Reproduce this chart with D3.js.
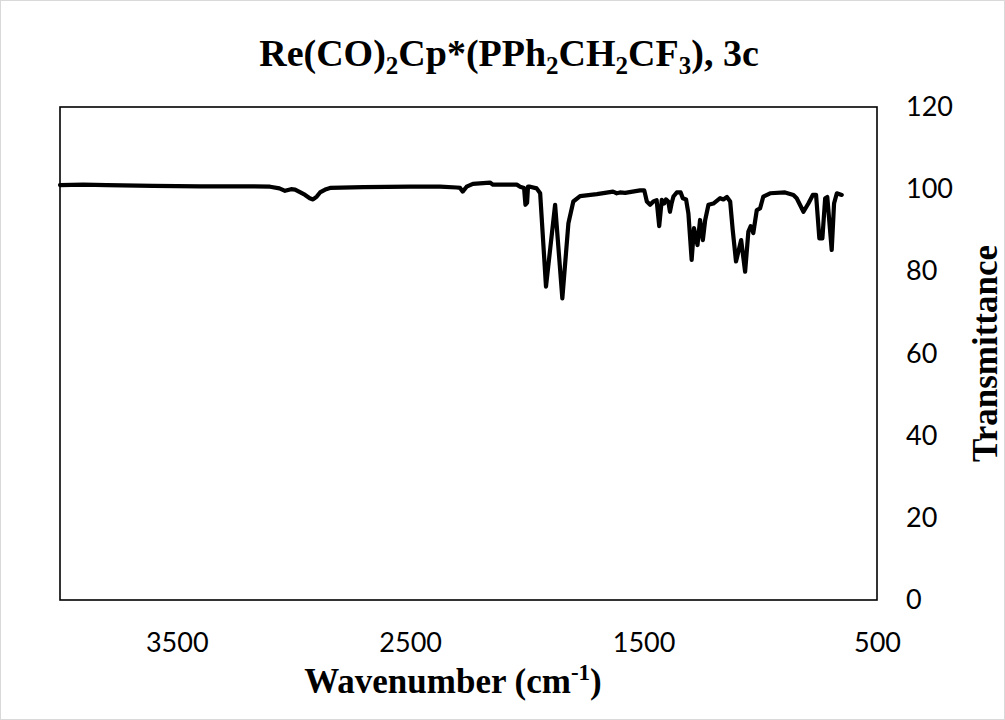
<!DOCTYPE html>
<html><head><meta charset="utf-8">
<script src="https://cdn.jsdelivr.net/npm/d3@7/dist/d3.min.js"></script>
<style>
html,body{margin:0;padding:0;background:#fff;}
svg{display:block;}
</style></head>
<body>
<svg id="chart" width="1005" height="720"></svg>
<script>
const wavenumbers = [4000,3900,3800,3600,3400,3200,3100,3060,3036,3010,2993,2970,2950,2930,2916,2900,2886,2860,2843,2700,2500,2372,2300,2286,2275,2258,2231,2158,2145,2043,2029,2012,2006,1999,1995,1986,1958,1943,1918,1879,1848,1822,1801,1772,1700,1631,1615,1601,1579,1515,1497,1486,1472,1458,1444,1433,1422,1412,1404,1394,1387,1380,1372,1358,1341,1332,1318,1308,1294,1284,1269,1258,1246,1236,1222,1201,1172,1158,1143,1129,1118,1104,1082,1065,1051,1041,1030,1015,1001,987,958,894,858,844,815,794,775,761,747,734,722,713,694,684,672,651];
const transmittance = [101.0,101.1,101.0,100.8,100.7,100.7,100.6,100.2,99.6,100.0,99.9,99.2,98.6,97.8,97.5,98.2,99.2,100.0,100.3,100.5,100.6,100.6,100.4,100.3,99.4,100.6,101.3,101.6,101.1,101.1,100.6,100.3,96.2,96.7,100.6,100.6,100.2,99.0,76.3,96.2,73.4,91.7,97.0,98.3,98.8,99.4,99.0,99.2,99.1,99.7,99.7,97.0,96.2,97.0,97.3,91.0,97.4,96.5,97.5,97.0,94.5,96.5,98.2,99.2,99.2,97.8,97.5,94.1,82.8,90.5,86.4,92.5,87.6,92.5,96.2,96.5,97.8,97.5,98.1,97.0,90.0,82.4,87.6,79.9,89.7,91.0,89.3,94.9,95.3,98.2,99.0,99.2,98.6,97.8,94.5,96.5,98.6,98.6,88.0,88.0,97.8,98.1,85.2,96.5,99.0,98.6];
const xTicks = [3500,2500,1500,500];
const yTicks = [0,20,40,60,80,100,120];

const svg = d3.select("#chart");
const W = 1005, H = 720;
const m = {left:60, right:877, top:107, bottom:600};

svg.append("rect").attr("x",0.5).attr("y",0.5).attr("width",W-1).attr("height",H-1)
  .attr("fill","#fff").attr("stroke","#d9d9d9").attr("stroke-width",1);

const x = d3.scaleLinear().domain([4000,500]).range([m.left,m.right]);
const y = d3.scaleLinear().domain([0,120]).range([m.bottom,m.top]);

const tickFont = "Lato, 'Open Sans', sans-serif";

const gx = svg.append("g").attr("transform",`translate(0,${m.bottom})`)
  .call(d3.axisBottom(x).tickValues(xTicks).tickSize(0).tickPadding(33).tickFormat(d3.format("d")));
gx.select(".domain").remove();
gx.selectAll("text").attr("font-family",tickFont).attr("font-size",27).attr("fill","#000");

const gy = svg.append("g").attr("transform",`translate(${m.right},0)`)
  .call(d3.axisRight(y).tickValues(yTicks).tickSize(0).tickPadding(29).tickFormat(d3.format("d")));
gy.select(".domain").remove();
gy.selectAll("text").attr("font-family",tickFont).attr("font-size",27).attr("fill","#000");

// plot frame
svg.append("rect").attr("x",m.left).attr("y",m.top)
  .attr("width",m.right-m.left).attr("height",m.bottom-m.top)
  .attr("fill","none").attr("stroke","#000").attr("stroke-width",1.6);

// spectrum
const data = wavenumbers.map((w,i)=>({w, t:transmittance[i]}));
const line = d3.line().x(d=>x(d.w)).y(d=>y(d.t));
svg.append("path").datum(data).attr("d",line)
  .attr("fill","none").attr("stroke","#000").attr("stroke-width",4.2)
  .attr("stroke-linejoin","round").attr("stroke-linecap","round");

const serif = "'Liberation Serif', 'Times New Roman', serif";

// title
const title = svg.append("text").attr("x",509).attr("y",66).attr("text-anchor","middle")
  .attr("font-family",serif).attr("font-weight","bold").attr("font-size",38).attr("fill","#000");
const parts = [["Re(CO)",0],["2",1],["Cp*(PPh",0],["2",1],["CH",0],["2",1],["CF",0],["3",1],["), 3c",0]];
let prevSub = 0;
parts.forEach(([t,sub])=>{
  const ts = title.append("tspan").text(t);
  if(sub){ ts.attr("font-size",25).attr("dy",8); }
  else if(prevSub){ ts.attr("dy",-8); }
  prevSub = sub;
});

// x axis title
const xt = svg.append("text").attr("x",453).attr("y",693).attr("text-anchor","middle")
  .attr("font-family",serif).attr("font-weight","bold").attr("font-size",35).attr("fill","#000");
xt.append("tspan").text("Wavenumber (cm");
xt.append("tspan").text("-1").attr("font-size",23).attr("dy",-13);
xt.append("tspan").text(")").attr("dy",13);

// y axis title
svg.append("text").attr("transform",`translate(997,${(m.top+m.bottom)/2}) rotate(-90)`)
  .attr("text-anchor","middle").attr("font-family",serif).attr("font-weight","bold")
  .attr("font-size",35).attr("fill","#000").text("Transmittance");
</script>
</body></html>
